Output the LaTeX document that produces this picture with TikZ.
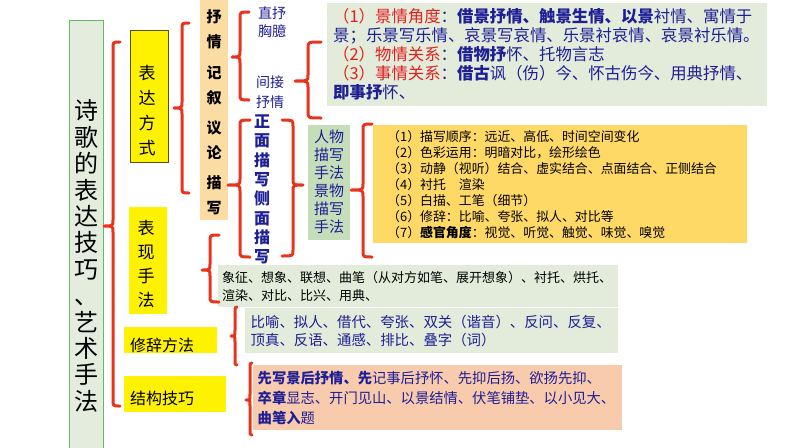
\documentclass[tikz,border=0pt]{standalone}
\usepackage{fontspec}
\setmainfont{Noto Sans CJK SC}
\definecolor{bred}{RGB}{232,52,28}
\definecolor{navy}{RGB}{30,30,150}
\definecolor{tred}{RGB}{228,30,30}
\definecolor{tan}{RGB}{251,221,163}
\definecolor{lgreen}{RGB}{227,236,218}
\definecolor{mgreen}{RGB}{197,221,185}
\definecolor{gold}{RGB}{255,217,102}
\definecolor{salmon}{RGB}{248,203,173}
\definecolor{tgfill}{RGB}{228,236,222}
\definecolor{tgline}{RGB}{100,185,100}
\definecolor{olive}{RGB}{90,80,30}
\newcommand{\Brc}[6]{% x, top, bottom, tipy, tipx, armx
  \draw[brc] (#6,#2) .. controls (#1,#2) .. (#1,#2+6) -- (#1,#4-6)
    .. controls (#1,#4) .. (#5,#4) .. controls (#1,#4) .. (#1,#4+6)
    -- (#1,#3-6) .. controls (#1,#3) .. (#6,#3);}
\tikzset{
  brc/.style={draw=bred, line width=3pt, line cap=round, line join=round},
  boxbase/.style={inner sep=0pt, anchor=north west},
  ybox/.style={boxbase, fill=yellow},
  vtext/.style={align=center, inner sep=0pt},
  listtext/.style={align=left, anchor=north west},
}
\begin{document}
\begin{tikzpicture}[x=1pt,y=-1pt]
\useasboundingbox (0,0) rectangle (794,447);

% title column
\node[boxbase, draw=tgline, line width=0.8pt, fill=tgfill, minimum width=34, minimum height=440] (titlebox) at (69,20) {};
\node[vtext, font=\fontsize{24}{26.4}\selectfont] (title) at (86,256) {诗\\歌\\的\\表\\达\\技\\巧\\、\\艺\\术\\手\\法};

% left category boxes
\node[ybox, draw=olive, line width=0.6pt, minimum width=38, minimum height=132] (biaodabox) at (130,30) {};
\node[vtext, font=\fontsize{17}{25}\selectfont] (biaoda) at (147,111) {表\\达\\方\\式};
\node[ybox, minimum width=38, minimum height=107] (biaoxianbox) at (129,207) {};
\node[vtext, font=\fontsize{17}{24}\selectfont] (biaoxian) at (146,264) {表\\现\\手\\法};
\node[ybox, minimum width=93, minimum height=26] (xiucibox) at (124,327) {};
\node[anchor=west, inner sep=0pt, font=\fontsize{16}{18}\selectfont] (xiuci) at (130,345) {修辞方法};
\node[ybox, minimum width=102, minimum height=36] (jiegoubox) at (124,376) {};
\node[anchor=west, inner sep=0pt, font=\fontsize{16}{18}\selectfont] (jiegou) at (130,398) {结构技巧};

% tan column
\node[boxbase, fill=tan, minimum width=28, minimum height=220] (tancol) at (200,0) {};
\node[vtext, font=\bfseries\fontsize{15}{25}\selectfont] (shuqing) at (214,29.5) {抒\\情};
\node[vtext, font=\bfseries\fontsize{15}{25}\selectfont] (jixu) at (214,85) {记\\叙};
\node[vtext, font=\bfseries\fontsize{15}{25}\selectfont] (yilun) at (214,140) {议\\论};
\node[vtext, font=\bfseries\fontsize{15}{25}\selectfont] (miaoxie) at (214,195) {描\\写};

% 抒情 branch
\node[vtext, text=navy, font=\fontsize{14}{18}\selectfont] (zhishu) at (272,22) {直抒\\胸臆};
\node[vtext, text=navy, font=\fontsize{14}{20}\selectfont] (jianjie) at (270,92) {间接\\抒情};
\node[boxbase, fill=lgreen, minimum width=440, minimum height=103, text width=428, inner xsep=6pt, align=left, text=navy, font=\fontsize{16.4}{19}\selectfont] (qingbox) at (327,3)
 {{\color{tred}（1）景情角度}：{\bfseries 借景抒情、触景生情、以景}衬情、寓情于\\
  景；乐景写乐情、哀景写哀情、乐景衬哀情、哀景衬乐情。\\
  {\color{tred}（2）物情关系}：{\bfseries 借物抒}怀、托物言志\\
  {\color{tred}（3）事情关系}：{\bfseries 借古}讽（伤）今、怀古伤今、用典抒情、\\
  {\bfseries 即事抒}怀、};

% 描写 branch
\node[vtext, text=navy, font=\bfseries\fontsize{16}{19.3}\selectfont] (zhengce) at (262,189.5) {正\\面\\描\\写\\侧\\面\\描\\写};
\node[boxbase, fill=mgreen, minimum width=42, minimum height=115] (renwubox) at (308,125) {};
\node[vtext, text=navy, font=\fontsize{15}{18}\selectfont] (renwu) at (329,182) {人物\\描写\\手法\\景物\\描写\\手法};
\node[boxbase, fill=gold, minimum width=374, minimum height=118, text width=346, inner xsep=14pt, align=left, font=\fontsize{12.9}{16}\selectfont] (listbox) at (373,125)
 {（1）描写顺序：远近、高低、时间空间变化\\
  （2）色彩运用：明暗对比，绘形绘色\\
  （3）动静（视听）结合、虚实结合、点面结合、正侧结合\\
  （4）衬托\quad 渲染\\
  （5）白描、工笔（细节）\\
  （6）修辞：比喻、夸张、拟人、对比等\\
  （7）{\bfseries 感官角度}：视觉、听觉、触觉、味觉、嗅觉};

% 表现手法 list
\node[boxbase, fill=lgreen, minimum width=400, minimum height=42, text width=392, inner xsep=4pt, align=left, font=\fontsize{13}{18}\selectfont] (bxlist) at (218,265)
 {象征、想象、联想、曲笔（从对方如笔、展开想象）、衬托、烘托、\\
  渲染、对比、比兴、用典、};

% 修辞 list
\node[boxbase, fill=lgreen, minimum width=373, minimum height=45, text width=362, inner xsep=5.5pt, align=left, text=navy, font=\fontsize{14.4}{18}\selectfont] (xclist) at (245,308)
 {比喻、拟人、借代、夸张、双关（谐音）、反问、反复、\\
  顶真、反语、通感、排比、叠字（词）};

% 结构 list
\node[boxbase, fill=salmon, minimum width=369, minimum height=65, text width=360, inner xsep=4.5pt, align=left, text=navy, font=\fontsize{14.3}{20}\selectfont] (jglist) at (253,365)
 {{\bfseries 先写景后抒情、先}记事后抒怀、先抑后扬、欲扬先抑、\\
  {\bfseries 卒章}显志、开门见山、以景结情、伏笔铺垫、以小见大、\\
  {\bfseries 曲笔入}题};

% braces
\Brc{113}{42}{406}{226}{104}{120}
\Brc{182}{23}{193}{108}{174}{189}
\Brc{240}{12}{100}{57}{232}{249}
\Brc{308}{42}{118}{81}{295}{321}
\Brc{240}{120}{257}{185}{228}{250}
\Brc{293}{120}{256}{185}{303}{282}
\Brc{363}{124}{257}{190}{351}{372}
\Brc{210}{235}{302}{270}{202}{219}
\Brc{235}{307}{365}{336}{231}{237}
\Brc{250}{363}{435}{400}{246}{252}
\end{tikzpicture}
\end{document}
